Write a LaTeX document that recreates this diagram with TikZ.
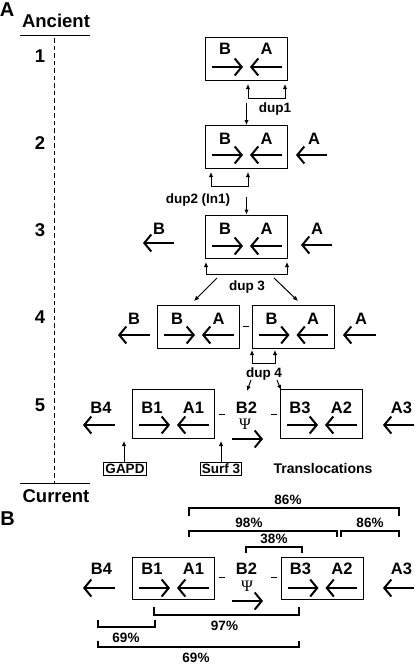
\documentclass[tikz,border=0pt]{standalone}
\usepackage{fontspec}
\setmainfont{Liberation Sans}
\newfontfamily\psifont{Liberation Serif}
\usetikzlibrary{arrows.meta}
\tikzset{
  lab/.style={font=\fontsize{16.5}{18}\selectfont\bfseries, inner sep=0pt},
  biglab/.style={font=\fontsize{18.5}{20}\selectfont\bfseries, inner sep=0pt},
  small/.style={font=\fontsize{13.5}{15}\selectfont\bfseries, inner sep=0pt},
  pct/.style={font=\fontsize{13.5}{15}\selectfont\bfseries, inner sep=0pt},
  psi/.style={font=\fontsize{16}{16}\selectfont\psifont, inner sep=0pt, text height=10.5pt, text depth=0pt},
  gbox/.style={draw, line width=1pt, inner sep=0pt, minimum width=82pt, minimum height=43pt},
  tagbox/.style={draw, line width=1pt, inner sep=1.5pt, font=\fontsize{13.5}{15}\selectfont\bfseries},
  bigarr/.style={line width=2pt, -{Straight Barb[length=7pt,width=17pt]}},
  smarr/.style={line width=1pt, -{Latex[length=5pt,width=4.5pt]}},
  smboth/.style={line width=1pt, {Latex[length=5pt,width=4.5pt]}-{Latex[length=5pt,width=4.5pt]}},
  brk/.style={line width=1.1pt},
  dsh/.style={line width=1pt},
}
\newcommand\genebox[8]{%
  % #1 name, #2 cx, #3 cy, #4 height, #5 label y, #6 arrow y, #7 left label, #8 right label
  \node[gbox, minimum height=#4pt] (#1) at (#2,#3) {};
  \node[lab] (#1L) at ({#2-21.5},#5) {#7};
  \node[lab] (#1R) at ({#2+20},#5) {#8};
  \draw[bigarr] ({#2-34.5},#6) -- ({#2-3.5},#6);
  \draw[bigarr] ({#2+35},#6) -- ({#2+3.5},#6);
}
\begin{document}
\begin{tikzpicture}[x=1pt,y=-1pt]
\useasboundingbox (0,0) rectangle (416,664);

% ---------- Part A ----------
\node[font=\fontsize{20}{22}\selectfont\bfseries, inner sep=0pt] (pA) at (7,10) {A};
\node[biglab] (anc) at (56,21) {Ancient};
\coordinate (ancL) at (20,35); \coordinate (ancR) at (90,35);
\draw[line width=1pt] (ancL) -- (ancR);
\coordinate (tl1) at (54,38); \coordinate (tl2) at (54,483);
\draw[line width=1pt, dash pattern=on 4.5pt off 3pt] (tl1) -- (tl2);
\coordinate (curL) at (20,483); \coordinate (curR) at (90,483);
\draw[line width=1pt] (curL) -- (curR);
\node[biglab] (cur) at (56,496) {Current};
\node[biglab] (n1) at (40,56) {1};
\node[biglab] (n2) at (40,143) {2};
\node[biglab] (n3) at (40,230) {3};
\node[biglab] (n4) at (40,317) {4};
\node[biglab] (n5) at (40,405) {5};

% row 1
\genebox{r1}{246.5}{58.5}{43}{49}{67}{B}{A}
\coordinate (d1a) at (248,84); \coordinate (d1b) at (285,84);
\draw[smboth] (d1a) -- (248,98) -- (285,98) -- (d1b);
\node[small, anchor=base] (dup1) at (275,112) {dup1};
\coordinate (d1s) at (246.5,103);

% row 2
\genebox{r2}{246.5}{147}{43}{139}{155}{B}{A}
\draw[smarr] (d1s) -- (r2.north);
\node[lab] (r2x) at (314,139) {A};
\draw[bigarr] (327,155) -- (296,155);
\coordinate (d2a) at (211,172); \coordinate (d2b) at (248,172);
\draw[smboth] (d2a) -- (211,186) -- (248,186) -- (d2b);
\node[small, anchor=base] (dup2) at (198,203) {dup2 (In1)};
\coordinate (d2s) at (246.5,197);

% row 3
\genebox{r3}{246.5}{236.5}{43}{229}{246}{B}{A}
\draw[smarr] (d2s) -- (r3.north);
\node[lab] (r3xb) at (159,229) {B};
\draw[bigarr] (174,243) -- (143,243);
\node[lab] (r3xa) at (317,229) {A};
\draw[bigarr] (332,245) -- (301,245);
\coordinate (d3a) at (206,262); \coordinate (d3b) at (287,262);
\draw[smboth] (d3a) -- (206,274) -- (287,274) -- (d3b);
\node[small, anchor=base] (dup3) at (247,290) {dup 3};
\coordinate (d3l) at (217,278); \coordinate (d3r) at (274,278);

% row 4
\genebox{r4l}{198.5}{326.5}{43}{319}{335}{B}{A}
\genebox{r4r}{293}{326.5}{43}{319}{335}{B}{A}
\draw[smarr] (d3l) -- (194,301);
\draw[smarr] (d3r) -- (298,301);
\draw[dsh] (r4l.east) ++(3,0) coordinate (q4) -- ++(6,0);
\node[lab] (r4xb) at (134,319) {B};
\draw[bigarr] (150,335) -- (118,335);
\node[lab] (r4xa) at (361,319) {A};
\draw[bigarr] (376,335) -- (343,335);
\coordinate (d4a) at (252,350); \coordinate (d4b) at (275,350);
\draw[smboth] (d4a) -- (252,363) -- (275,363) -- (d4b);
\node[small, anchor=base] (dup4) at (264,377) {dup 4};
\coordinate (d4l) at (251,380); \coordinate (d4r) at (277,380);

% row 5
\genebox{r5l}{173.5}{413.5}{49}{407.5}{425}{B1}{A1}
\genebox{r5r}{321.5}{413.5}{49}{407.5}{425}{B3}{A2}
\draw[smarr] (d4l) -- (247,391);
\draw[smarr] (d4r) -- (281,390);
\node[lab] (b4a) at (101,407.5) {B4};
\draw[bigarr] (115,425) -- (83,425);
\node[lab] (b2a) at (246.5,407.5) {B2};
\node[psi] (psia) at (245,424.5) {Ψ};
\draw[bigarr] (232,439) -- (263,439);
\node[lab] (a3a) at (401.5,407.5) {A3};
\draw[bigarr] (414,425) -- (383,425);
\draw[dsh] (218.5,414) -- (225,414);
\draw[dsh] (271,414) -- (277,414);
\node[tagbox] (gapd) at (125,469) {GAPD};
\node[tagbox] (surf) at (221,469) {Surf 3};
\coordinate (gapdT) at (124,441); \coordinate (surfT) at (221,441);
\draw[smarr] (gapd.north -| gapdT) -- (gapdT);
\draw[smarr] (surf.north) -- (surfT);
\node[small, font=\fontsize{14}{16}\selectfont\bfseries] (transl) at (323,468) {Translocations};

% ---------- Part B ----------
\node[font=\fontsize{20}{22}\selectfont\bfseries, inner sep=0pt] (pB) at (7.5,518.5) {B};
\genebox{bl}{173.5}{578}{42}{569}{588}{B1}{A1}
\genebox{br}{322}{578}{42}{569}{588}{B3}{A2}
\node[lab] (b4b) at (101.5,569) {B4};
\draw[bigarr] (115,588) -- (83,588);
\node[lab] (b2b) at (246.5,569) {B2};
\node[psi] (psib) at (247,586.5) {Ψ};
\draw[bigarr] (232,601) -- (263,601);
\node[lab] (a3b) at (401.5,569) {A3};
\draw[bigarr] (414,588) -- (383,588);
\draw[dsh] (218.5,577) -- (225,577);
\draw[dsh] (271,577) -- (277,577);

% brackets above
\coordinate (p1a) at (189,516); \coordinate (p1b) at (399,516);
\draw[brk] (p1a) -- (189,508) -- (399,508) -- (p1b);
\node[pct] (t86a) at (288,500) {86\%};
\coordinate (p2a) at (189,537); \coordinate (p2b) at (337,537);
\draw[brk] (p2a) -- (189,531) -- (337,531) -- (p2b);
\node[pct] (t98) at (249,522.5) {98\%};
\coordinate (p3a) at (341,537); \coordinate (p3b) at (399,537);
\draw[brk] (p3a) -- (341,531) -- (399,531) -- (p3b);
\node[pct] (t86b) at (370,522.5) {86\%};
\coordinate (p4a) at (246,553); \coordinate (p4b) at (302,553);
\draw[brk] (p4a) -- (246,547) -- (302,547) -- (p4b);
\node[pct] (t38) at (274,539) {38\%};

% brackets below
\coordinate (p5a) at (154,607); \coordinate (p5b) at (299,607);
\draw[brk] (p5a) -- (154,615) -- (299,615) -- (p5b);
\node[pct] (t97) at (224.5,626) {97\%};
\coordinate (p6a) at (98,620); \coordinate (p6b) at (155,620);
\draw[brk] (p6a) -- (98,627) -- (155,627) -- (p6b);
\node[pct] (t69a) at (126,637.5) {69\%};
\coordinate (p7a) at (98,641); \coordinate (p7b) at (299,641);
\draw[brk] (p7a) -- (98,647) -- (299,647) -- (p7b);
\node[pct] (t69b) at (196,657.5) {69\%};
\end{tikzpicture}
\end{document}
